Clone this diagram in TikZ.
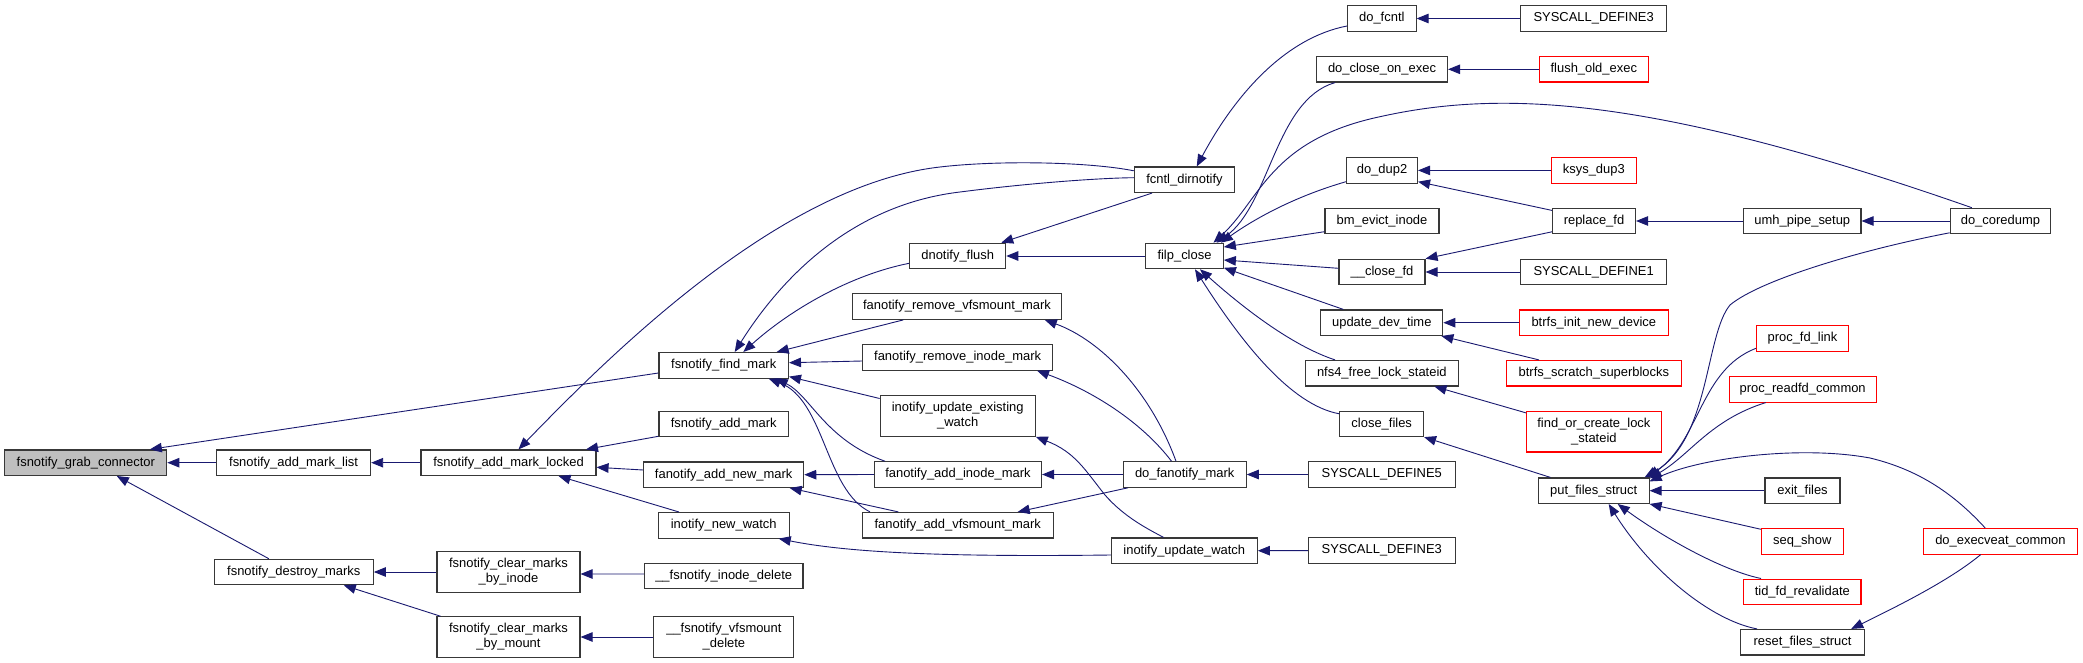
\documentclass[tikz,border=0pt]{standalone}
\usepackage{fontspec}
\setmainfont{Liberation Sans}
\usetikzlibrary{arrows.meta}
\definecolor{navyc}{HTML}{191970}
\definecolor{redc}{HTML}{FF0000}
\definecolor{grayc}{HTML}{BFBFBF}
\definecolor{boxc}{HTML}{383838}
\begin{document}
\begin{tikzpicture}[x=1bp,y=-1bp,
  fn/.style={draw=boxc, line width=1.1bp, inner sep=0pt, minimum height=25.5bp, align=center, font=\fontsize{13}{15}\selectfont, text=black},
  fnred/.style={fn, draw=redc},
  two/.style={minimum height=40.5bp},
  link/.style={draw=navyc, line width=0.9bp, arrows={Triangle[length=12bp,width=9.5bp]-}}]
\fill[white] (0,0) rectangle (2083,663);
\useasboundingbox (0,0) rectangle (2083,663);
% column 0-2
\node[fn, minimum width=162bp, fill=grayc] (gc) at (85.8,462.7) {fsnotify\_grab\_connector};
\node[fn, minimum width=154bp] (aml) at (293.6,462.7) {fsnotify\_add\_mark\_list};
\node[fn, minimum width=159bp] (dm) at (293.8,572) {fsnotify\_destroy\_marks};
\node[fn, minimum width=175bp] (amlk) at (508.5,462.7) {fsnotify\_add\_mark\_locked};
\node[fn, two, minimum width=143bp] (cmi) at (508.5,572) {fsnotify\_clear\_marks\\\_by\_inode};
\node[fn, two, minimum width=143bp] (cmm) at (508.5,637) {fsnotify\_clear\_marks\\\_by\_mount};
% column 3
\node[fn, minimum width=129.5bp] (fm) at (723.7,365.3) {fsnotify\_find\_mark};
\node[fn, minimum width=129.5bp] (am) at (723.7,424) {fsnotify\_add\_mark};
\node[fn, minimum width=160bp] (fanm) at (723.7,474.7) {fanotify\_add\_new\_mark};
\node[fn, minimum width=131bp] (inw) at (723.7,525.3) {inotify\_new\_watch};
\node[fn, minimum width=158.5bp] (fid) at (723.7,576) {\_\_fsnotify\_inode\_delete};
\node[fn, two, minimum width=140bp] (fvd) at (723.9,637) {\_\_fsnotify\_vfsmount\\\_delete};
% column 4
\node[fn, minimum width=96bp] (df) at (957.7,256) {dnotify\_flush};
\node[fn, minimum width=209bp] (frvm) at (957,306.6) {fanotify\_remove\_vfsmount\_mark};
\node[fn, minimum width=190bp] (frim) at (957.7,357.3) {fanotify\_remove\_inode\_mark};
\node[fn, two, minimum width=155bp] (iuew) at (957.7,416) {inotify\_update\_existing\\\_watch};
\node[fn, minimum width=167bp] (faim) at (958,474.5) {fanotify\_add\_inode\_mark};
\node[fn, minimum width=191bp] (favm) at (957.7,525.2) {fanotify\_add\_vfsmount\_mark};
% column 5
\node[fn, minimum width=100.4bp] (fcd) at (1184.5,179.8) {fcntl\_dirnotify};
\node[fn, minimum width=77.6bp] (fc) at (1184.5,256) {filp\_close};
\node[fn, minimum width=123bp] (dfm) at (1184.7,474.5) {do\_fanotify\_mark};
\node[fn, minimum width=146bp] (iuw) at (1184.3,550.7) {inotify\_update\_watch};
% column 6
\node[fn, minimum width=68.5bp] (dfc) at (1381.8,18.5) {do\_fcntl};
\node[fn, minimum width=131bp] (dcoe) at (1382,69.3) {do\_close\_on\_exec};
\node[fn, minimum width=71bp] (dd2) at (1382,170.4) {do\_dup2};
\node[fn, minimum width=114bp] (bei) at (1382,221) {bm\_evict\_inode};
\node[fn, minimum width=86bp] (cfd) at (1382,272) {\_\_close\_fd};
\node[fn, minimum width=122bp] (udt) at (1381.8,322.7) {update\_dev\_time};
\node[fn, minimum width=153.5bp] (nfs) at (1381.8,373.2) {nfs4\_free\_lock\_stateid};
\node[fn, minimum width=83.6bp] (clf) at (1381.7,423.8) {close\_files};
\node[fn, minimum width=147bp] (sd5) at (1381.8,474.5) {SYSCALL\_DEFINE5};
\node[fn, minimum width=147bp] (sd3b) at (1381.8,550.6) {SYSCALL\_DEFINE3};
% column 7
\node[fn, minimum width=146.6bp] (sd3a) at (1593.6,18.5) {SYSCALL\_DEFINE3};
\node[fnred, minimum width=109.4bp] (foe) at (1593.8,69.3) {flush\_old\_exec};
\node[fnred, minimum width=85.2bp] (kd3) at (1593.8,170.4) {ksys\_dup3};
\node[fn, minimum width=83bp] (rfd) at (1594,221) {replace\_fd};
\node[fn, minimum width=146.6bp] (sd1) at (1593.6,272) {SYSCALL\_DEFINE1};
\node[fnred, minimum width=149bp] (bind) at (1593.8,322.7) {btrfs\_init\_new\_device};
\node[fnred, minimum width=175bp] (bss) at (1593.9,373.2) {btrfs\_scratch\_superblocks};
\node[fnred, two, minimum width=134.5bp] (focl) at (1593.9,431.7) {find\_or\_create\_lock\\\_stateid};
\node[fn, minimum width=110.7bp] (pfs) at (1593.7,490.7) {put\_files\_struct};
% column 8
\node[fn, minimum width=117.4bp] (ups) at (1802.3,221) {umh\_pipe\_setup};
\node[fnred, minimum width=92bp] (pfl) at (1802.5,338.6) {proc\_fd\_link};
\node[fnred, minimum width=147bp] (prc) at (1802.7,389.3) {proc\_readfd\_common};
\node[fn, minimum width=75bp] (exf) at (1802.5,490.7) {exit\_files};
\node[fnred, minimum width=81.6bp] (ssh) at (1802.3,541.3) {seq\_show};
\node[fnred, minimum width=117.4bp] (tfr) at (1802.3,591.8) {tid\_fd\_revalidate};
\node[fn, minimum width=123.3bp] (rfs) at (1802.5,642.2) {reset\_files\_struct};
% column 9
\node[fn, minimum width=100.4bp] (dcd) at (2000.4,221) {do\_coredump};
\node[fnred, minimum width=154bp] (dec) at (2000.4,541.3) {do\_execveat\_common};
% edges
\draw[link] ([xshift=64bp]gc.north) -- ([yshift=-7.7bp]fm.west);
\draw[link] (gc.east) -- (aml.west);
\draw[link] ([xshift=31bp]gc.south) -- ([xshift=-25bp]dm.north);
\draw[link] (aml.east) -- (amlk.west);
\draw[link] (dm.east) -- (cmi.west);
\draw[link] ([xshift=50bp]dm.south) -- ([xshift=4bp]cmm.north west);
\draw[link] ([xshift=10bp]amlk.north) .. controls (610,355) and (780,185) .. (940,167) .. controls (1000,160) and (1090,162) .. ([yshift=9bp]fcd.west);
\draw[link] ([xshift=11bp]fm.north) .. controls (780,280) and (850,205) .. (960,192) .. controls (1030,183) and (1100,178) .. ([yshift=2.1bp]fcd.west);
\draw[link] ([xshift=19.6bp]fm.north) .. controls (790,310) and (850,275) .. ([yshift=-7.3bp]df.west);
\draw[link] ([xshift=53bp]fm.north) -- ([xshift=-53.7bp]frvm.south);
\draw[link] ([yshift=2.6bp]fm.east) -- ([yshift=-3.7bp]frim.west);
\draw[link] ([yshift=2bp]fm.south east) -- ([yshift=-3.3bp]iuew.north west);
\draw[link] ([xshift=52bp]fm.south) .. controls (810,395) and (825,440) .. ([xshift=-73bp]faim.north);
\draw[link] ([xshift=45bp]fm.south) .. controls (825,400) and (825,490) .. ([xshift=-87.7bp]favm.north);
\draw[link] ([xshift=77.5bp]amlk.north) -- ([yshift=1bp]am.south west);
\draw[link] ([yshift=-4.6bp]amlk.east) -- ([yshift=4.7bp]fanm.west);
\draw[link] ([xshift=50bp]amlk.south) -- ([xshift=-44.7bp]inw.north);
\draw[link] (fanm.east) -- (faim.west);
\draw[link] ([xshift=66bp]fanm.south) -- ([xshift=-59.4bp]favm.north);
\draw[link] ([yshift=-2bp]cmi.east) -- ([yshift=2bp]fid.west);
\draw[link] (cmm.east) -- (fvd.west);
\draw[link] ([xshift=55bp]inw.south) .. controls (850,553) and (950,557) .. ([yshift=-4.3bp]iuw.west);
\draw[link] (iuew.south east) .. controls (1075,452) and (1085,470) .. (1105,495) .. controls (1125,518) and (1150,530) .. ([xshift=-20.8bp]iuw.north);
\draw[link] (faim.east) -- (dfm.west);
\draw[link] ([xshift=60bp]favm.north) -- ([xshift=-56.7bp]dfm.south);
\draw[link] ([xshift=79.3bp]frim.south) .. controls (1090,390) and (1140,420) .. ([xshift=-13.2bp]dfm.north);
\draw[link] ([xshift=87.8bp]frvm.south) .. controls (1100,340) and (1150,390) .. ([xshift=-8.7bp]dfm.north);
\draw[link] (dfm.east) -- (sd5.west);
\draw[link] (iuw.east) -- (sd3b.west);
\draw[link] ([xshift=12.2bp]fcd.north) .. controls (1235,95) and (1285,38) .. ([yshift=-7.5bp]dfc.west);
\draw[link] ([xshift=-5bp]df.north east) -- ([xshift=-32.5bp]fcd.south);
\draw[link] (df.east) -- (fc.west);
\draw[link] ([xshift=32bp]fc.north) .. controls (1270,205) and (1275,100) .. ([xshift=-47bp]dcoe.south);
\draw[link] ([xshift=29bp]fc.north) .. controls (1260,200) and (1270,140) .. (1380,116.7) .. controls (1500,90) and (1650,95) .. ([xshift=-28.6bp]dcd.north);
\draw[link] ([xshift=-3bp]fc.north east) .. controls (1260,215) and (1300,195) .. ([yshift=-11.3bp]dd2.west);
\draw[link] ([yshift=9bp]fc.east) -- ([yshift=-10.7bp]bei.west);
\draw[link] ([yshift=-4bp]fc.east) -- ([yshift=3.7bp]cfd.west);
\draw[link] ([yshift=1.5bp]fc.south east) -- ([xshift=-38.5bp]udt.north);
\draw[link] ([xshift=15.5bp]fc.south) .. controls (1240,305) and (1290,345) .. ([xshift=-46.8bp]nfs.north);
\draw[link] ([xshift=10.5bp]fc.south) .. controls (1240,340) and (1290,405) .. ([yshift=-3.3bp]clf.north west);
\draw[link] (dfc.east) -- (sd3a.west);
\draw[link] (dcoe.east) -- (foe.west);
\draw[link] (dd2.east) -- (kd3.west);
\draw[link] ([yshift=2bp]dd2.south east) -- ([yshift=-2.7bp]rfd.north west);
\draw[link] (cfd.north east) -- ([yshift=2.5bp]rfd.south west);
\draw[link] (cfd.east) -- (sd1.west);
\draw[link] (rfd.east) -- (ups.west);
\draw[link] (ups.east) -- (dcd.west);
\draw[link] (udt.east) -- (bind.west);
\draw[link] ([xshift=-2bp]udt.south east) -- ([xshift=-55bp]bss.north);
\draw[link] ([xshift=-24.7bp]nfs.south east) -- ([yshift=-2bp]focl.north west);
\draw[link] (clf.south east) -- ([xshift=-43.3bp]pfs.north);
\draw[link] ([xshift=-5bp]pfs.north east) .. controls (1710,440) and (1705,335) .. (1730,305) .. controls (1760,280) and (1860,250) .. ([yshift=1.5bp]dcd.south west);
\draw[link] ([xshift=-2bp]pfs.north east) .. controls (1700,440) and (1700,370) .. ([yshift=-9.7bp]pfl.west);
\draw[link] ([yshift=-1bp]pfs.north east) .. controls (1690,455) and (1710,420) .. ([xshift=-37bp]prc.south);
\draw[link] ([yshift=-4bp]pfs.north east) .. controls (1700,458) and (1800,445) .. (1870,458) .. controls (1920,470) and (1955,495) .. ([xshift=-15.2bp]dec.north);
\draw[link] (pfs.east) -- (exf.west);
\draw[link] (pfs.south east) -- ([yshift=-1.3bp]ssh.north west);
\draw[link] ([xshift=24bp]pfs.south) .. controls (1660,535) and (1720,570) .. ([xshift=-41.3bp]tfr.north);
\draw[link] ([xshift=15bp]pfs.south) .. controls (1650,570) and (1710,620) .. ([xshift=-45.5bp]rfs.north);
\draw[link] ([xshift=-13.5bp]rfs.north east) .. controls (1900,605) and (1950,580) .. ([xshift=-19.7bp]dec.south);
\end{tikzpicture}
\end{document}
